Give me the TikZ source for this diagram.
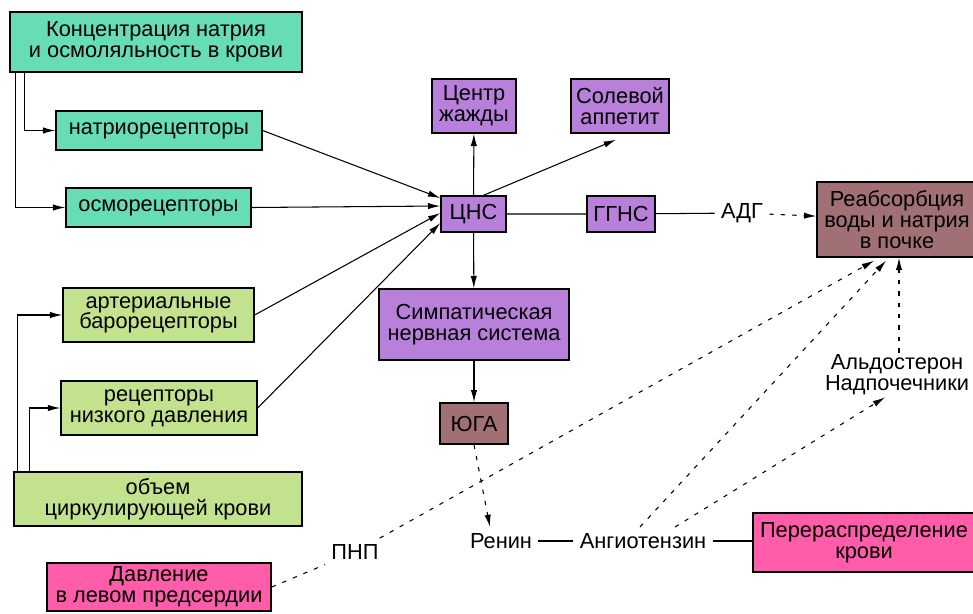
\documentclass[tikz,border=0pt]{standalone}
\usepackage{fontspec}
\setmainfont{Liberation Sans}
\usetikzlibrary{arrows.meta}
\definecolor{sodium}{RGB}{102,221,181}
\definecolor{volume}{RGB}{195,226,141}
\definecolor{nervous}{RGB}{184,128,218}
\definecolor{kidney}{RGB}{160,112,116}
\definecolor{atrium}{RGB}{255,92,170}

\begin{document}
\begin{tikzpicture}[line width=0.6pt,
    every node/.style={font=\fontsize{12.4}{11.8}\selectfont},
    box/.style={draw, line width=0.8pt, align=center, inner sep=0pt},
    tip/.style={-{Latex[length=7pt,width=3.6pt]}},
    hint/.style={dash pattern=on 2.5pt off 4pt}]
    \clip (0,0) rectangle (19.46,-12.26);
    \node[box, fill=sodium, minimum width=5.84cm, minimum height=1.2cm] (conc) at (3.12,-0.84) {Концентрация натрия\\и осмоляльность в крови};
    \node[box, fill=sodium, minimum width=4.12cm, minimum height=0.78cm] (natr) at (3.18,-2.61) {натриорецепторы};
    \node[box, fill=sodium, minimum width=3.70cm, minimum height=0.78cm] (osmo) at (3.17,-4.15) {осморецепторы};
    \node[box, fill=volume, minimum width=3.82cm, minimum height=1.08cm] (baro) at (3.17,-6.30) {артериальные\\барорецепторы};
    \node[box, fill=volume, minimum width=3.92cm, minimum height=1.08cm] (lowp) at (3.18,-8.16) {рецепторы\\низкого давления};
    \node[box, fill=volume, minimum width=5.76cm, minimum height=1.08cm] (volume) at (3.16,-9.98) {объем\\циркулирующей крови};
    \node[box, fill=atrium, minimum width=4.48cm, minimum height=0.96cm] (pressure) at (3.18,-11.74) {Давление\\в левом предсердии};
    \node[box, fill=nervous, minimum width=1.68cm, minimum height=1.08cm] (thirst) at (9.48,-2.12) {Центр\\жажды};
    \node[box, fill=nervous, minimum width=1.96cm, minimum height=1.08cm] (salt) at (12.40,-2.12) {Солевой\\аппетит};
    \node[box, fill=nervous, minimum width=1.30cm, minimum height=0.72cm] (cns) at (9.47,-4.28) {ЦНС};
    \node[box, fill=nervous, minimum width=1.36cm, minimum height=0.72cm] (ggns) at (12.42,-4.28) {ГГНС};
    \node[box, fill=nervous, minimum width=3.80cm, minimum height=1.42cm] (symp) at (9.48,-6.49) {Симпатическая\\нервная система};
    \node[box, fill=kidney, minimum width=1.36cm, minimum height=0.82cm] (jga) at (9.48,-8.47) {ЮГА};
    \node[box, fill=kidney, minimum width=3.20cm, minimum height=1.50cm] (reabs) at (17.94,-4.39) {Реабсорбция\\воды и натрия\\в почке};
    \node[box, fill=atrium, minimum width=4.44cm, minimum height=1.18cm] (redist) at (17.28,-10.85) {Перераспределение\\крови};
    \node (adh) at (14.84,-4.26) {АДГ};
    \node[align=center, inner sep=1pt] (aldo) at (17.94,-7.50) {Альдостерон\\Надпочечники};
    \node (renin) at (10.02,-10.82) {Ренин};
    \node (angio) at (12.86,-10.82) {Ангиотензин};
    \node (pnp) at (7.10,-11.04) {ПНП};

    \draw[tip] ([xshift=0.3cm]conc.south west) |- (natr);
    \draw[tip] ([xshift=0.12cm]conc.south west) |- (osmo);
    \draw[tip] ([xshift=0.08cm]volume.north west) |- (baro);
    \draw[tip] ([xshift=0.32cm]volume.north west) |- (lowp);
    \draw[tip] (natr.east) -- ([yshift=0.32cm]cns.west);
    \draw[tip] (osmo.east) -- ([yshift=0.16cm]cns.west);
    \draw[tip] (baro.east) -- ([yshift=0.02cm]cns.west);
    \draw[tip] (lowp.east) -- ([yshift=-0.18cm]cns.west);
    \draw[tip] (cns) -- (thirst);
    \draw[tip] ([xshift=0.2cm]cns.north) -- ([xshift=-0.08cm,yshift=-0.12cm]salt.south);
    \draw (cns) -- (ggns) -- (adh);
    \draw[tip, hint] (adh) -- (reabs);
    \draw[tip] (cns) -- (symp);
    \draw[tip] (symp) -- (jga);
    \draw[tip, hint] (jga.south) -- ([xshift=-0.22cm]renin.north);
    \draw (renin) -- (angio) -- (angio -| redist.west);
    \draw[hint] (pressure.east) -- (pnp);
    \draw[tip, hint] (pnp) -- ([xshift=-0.46cm,yshift=-0.06cm]reabs.south);
    \draw[tip, hint] ([xshift=-0.06cm]angio.north) -- ([xshift=-0.22cm,yshift=-0.06cm]reabs.south);
    \draw[tip, hint] ([xshift=0.64cm]angio.north) -- ([xshift=-0.24cm]aldo.south);
    \draw[tip, hint] ([xshift=0.04cm]aldo.north) -- ([xshift=0.04cm]reabs.south);
\end{tikzpicture}
\end{document}
